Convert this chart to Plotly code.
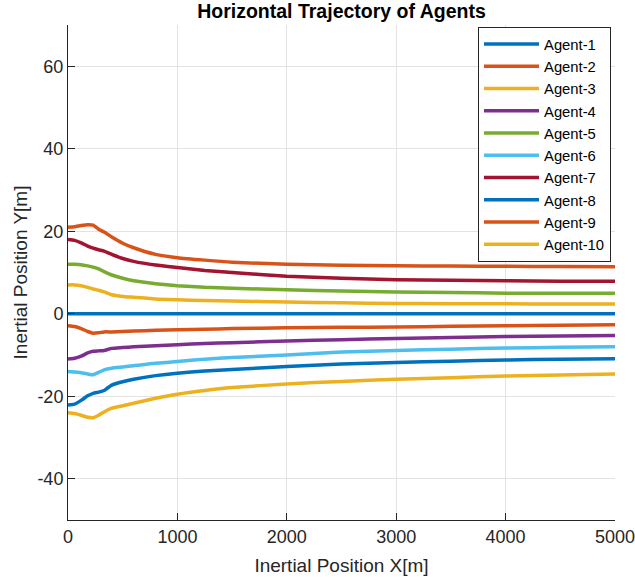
import plotly.graph_objects as go

# Sampled horizontal positions [m] shared by every agent
x_pos = [0, 60, 120, 180, 230, 280, 330, 400, 500, 600, 800, 1000, 1250, 1500,
         2000, 2500, 3000, 3500, 4000, 4500, 5000]

agent_1 = [0.0] * 21
agent_2 = [-2.9, -3.1, -3.6, -4.3, -4.7, -4.6, -4.4, -4.4, -4.3, -4.2, -4.0, -3.9,
           -3.75, -3.6, -3.4, -3.3, -3.2, -3.05, -2.9, -2.8, -2.65]
agent_3 = [7.0, 7.0, 6.8, 6.4, 6.0, 5.7, 5.3, 4.6, 4.2, 4.0, 3.6, 3.4, 3.2, 3.1,
           2.85, 2.65, 2.5, 2.45, 2.4, 2.38, 2.35]
agent_4 = [-11.0, -10.8, -10.3, -9.5, -9.1, -9.0, -8.9, -8.4, -8.2, -8.0, -7.75, -7.5,
           -7.2, -7.0, -6.6, -6.3, -6.0, -5.75, -5.5, -5.4, -5.3]
agent_5 = [12.0, 12.0, 11.9, 11.6, 11.3, 10.9, 10.2, 9.4, 8.6, 8.0, 7.3, 6.8, 6.4, 6.2,
           5.8, 5.5, 5.3, 5.15, 5.0, 5.0, 4.95]
agent_6 = [-14.0, -14.1, -14.3, -14.6, -14.8, -14.2, -13.6, -13.2, -12.9, -12.6, -12.0,
           -11.6, -11.0, -10.6, -10.0, -9.3, -8.9, -8.6, -8.3, -8.15, -8.0]
agent_7 = [18.0, 17.8, 17.2, 16.4, 15.9, 15.5, 15.2, 14.4, 13.4, 12.7, 11.8, 11.2, 10.5,
           10.0, 9.1, 8.6, 8.25, 8.1, 8.0, 7.9, 7.85]
agent_8 = [-22.1, -21.9, -21.0, -19.9, -19.3, -19.0, -18.6, -17.3, -16.5, -15.9, -15.0,
           -14.4, -13.9, -13.5, -12.8, -12.2, -11.8, -11.5, -11.2, -11.05, -10.9]
agent_9 = [21.0, 21.1, 21.4, 21.6, 21.5, 20.5, 19.8, 18.6, 17.1, 16.0, 14.4, 13.6, 13.0,
           12.5, 12.0, 11.75, 11.65, 11.55, 11.5, 11.45, 11.4]
agent_10 = [-24.0, -24.2, -24.6, -25.1, -25.2, -24.6, -23.8, -22.9, -22.3, -21.7, -20.5,
            -19.5, -18.6, -17.9, -17.0, -16.4, -15.9, -15.5, -15.1, -14.85, -14.6]

agent_names = [f"Agent-{i}" for i in range(1, 11)]
agent_paths = [agent_1, agent_2, agent_3, agent_4, agent_5,
               agent_6, agent_7, agent_8, agent_9, agent_10]

# MATLAB default colour order (cycles after seven)
palette = ["#0072BD", "#D95319", "#EDB120", "#7E2F8E", "#77AC30",
           "#4DBEEE", "#A2142F"]

x_ticks = [0, 1000, 2000, 3000, 4000, 5000]
y_ticks = [-40, -20, 0, 20, 40, 60]
y_tick_text = ["-40", "-20", "0", "20", "40", "60"]

FONT = "Arial, Liberation Sans, Helvetica, sans-serif"
INK = "#262626"

fig = go.Figure()
for k, (name, ys) in enumerate(zip(agent_names, agent_paths)):
    fig.add_trace(go.Scatter(
        x=x_pos, y=ys, mode="lines", name=name,
        line=dict(color=palette[k % len(palette)], width=3.5,
                  shape="spline", smoothing=0.5),
    ))

axis_common = dict(
    showgrid=True, gridcolor="#e3e3e3", gridwidth=1,
    showline=True, linecolor=INK, linewidth=1,
    ticks="inside", ticklen=7, tickcolor=INK, tickwidth=1,
    zeroline=False, mirror=False, automargin=False,
    ticklabeloverflow="allow",
    tickfont=dict(family=FONT, size=18, color=INK),
)

fig.update_layout(
    width=635, height=583,
    margin=dict(l=68, r=20, t=25, b=63),
    paper_bgcolor="white", plot_bgcolor="white",
    title=dict(text="<b>Horizontal Trajectory of Agents</b>",
               x=(68 + 615) / 2 / 635, xanchor="center",
               y=1 - 11 / 583, yanchor="middle", yref="container",
               font=dict(family=FONT, size=19.5, color="black")),
    xaxis=dict(range=[0, 5000], tickvals=x_ticks,
               title=dict(text="Inertial Position X[m]", standoff=13,
                          font=dict(family=FONT, size=19, color=INK)),
               **axis_common),
    yaxis=dict(range=[-50, 70], tickvals=y_ticks, ticktext=y_tick_text,
               title=dict(text="Inertial Position Y[m]", standoff=4,
                          font=dict(family=FONT, size=19, color=INK)),
               **axis_common),
    legend=dict(x=0.9927, y=0.996, xanchor="right", yanchor="top",
                bgcolor="white", bordercolor=INK, borderwidth=1,
                font=dict(family=FONT, size=14.8, color="black"),
                itemwidth=55, tracegroupgap=0),
    showlegend=True,
)

fig.write_html("out.html")
